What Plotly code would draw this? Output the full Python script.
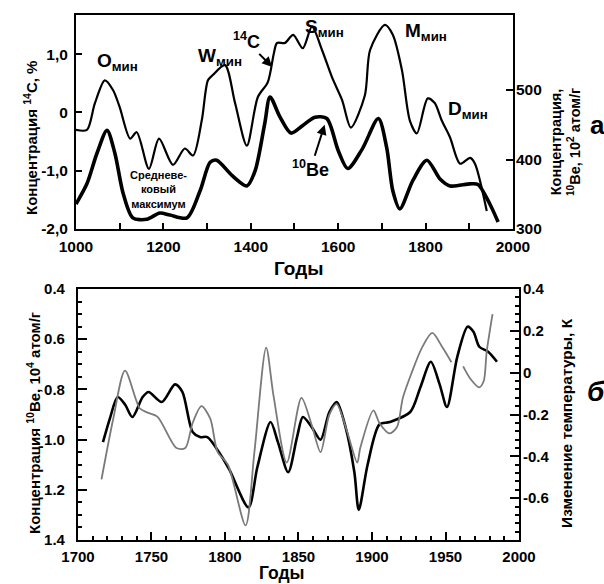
import plotly.graph_objects as go

# ---- Panel "а": 14C concentration and 10Be concentration, 1000-2000 ----
c14_years = [1000, 1025, 1043, 1066, 1085, 1100, 1124, 1139, 1167, 1190, 1222, 1249,
             1268, 1288, 1302, 1313, 1341, 1364, 1391, 1416, 1439, 1453, 1460, 1478,
             1497, 1519, 1540, 1563, 1586, 1609, 1629, 1661, 1673, 1707, 1725, 1746,
             1764, 1780, 1805, 1821, 1837, 1856, 1879, 1902, 1913, 1940]
c14_values = [-0.30, -0.30, 0.15, 0.55, 0.38, 0.09, -0.45, -0.34, -0.97, -0.45, -0.90, -0.62,
              -0.74, -0.13, 0.55, 0.64, 0.81, 0.16, -0.57, 0.26, 0.52, 1.02, 1.19, 1.19,
              1.33, 1.10, 1.47, 1.07, 0.60, 0.21, -0.26, 0.29, 1.07, 1.50, 1.33, 0.72,
              -0.14, -0.36, 0.24, 0.16, -0.14, -0.43, -0.88, -0.78, -0.88, -1.69]

be_years_a = [1000, 1025, 1048, 1071, 1089, 1108, 1130, 1162, 1192, 1215, 1254, 1284,
              1307, 1322, 1357, 1391, 1410, 1432, 1444, 1467, 1492, 1519, 1547, 1574,
              1600, 1622, 1655, 1692, 1711, 1725, 1741, 1771, 1803, 1833, 1856, 1902,
              1920, 1947, 1966]
be_values_a = [336, 365, 409, 442, 409, 351, 316, 314, 323, 320, 316, 355,
               396, 399, 377, 362, 384, 452, 490, 461, 438, 449, 461, 459,
               413, 387, 415, 459, 417, 355, 329, 370, 399, 372, 362, 365,
               364, 336, 310]

# ---- Panel "б": 10Be concentration and temperature change, 1700-2000 ----
be_years_b = [1717, 1722, 1727, 1732, 1737, 1744, 1748, 1757, 1766, 1771, 1778, 1783,
              1788, 1797, 1803, 1816, 1822, 1831, 1836, 1843, 1849, 1853, 1859, 1865,
              1871, 1876, 1882, 1888, 1891, 1897, 1905, 1912, 1926, 1933, 1940, 1946,
              1951, 1958, 1965, 1969, 1973, 1979, 1985]
be_values_b = [1.01, 0.91, 0.83, 0.86, 0.91, 0.83, 0.81, 0.85, 0.78, 0.81, 0.97, 0.99,
               0.99, 1.06, 1.12, 1.27, 1.11, 0.93, 1.01, 1.13, 0.99, 0.91, 0.95, 1.00,
               0.89, 0.85, 0.95, 1.13, 1.28, 1.10, 0.94, 0.93, 0.89, 0.79, 0.69, 0.78,
               0.87, 0.67, 0.55, 0.57, 0.63, 0.65, 0.69]

temp_years = [1716, 1724, 1732, 1742, 1747, 1754, 1767, 1773, 1778, 1784, 1790, 1795,
              1802, 1814, 1820, 1828, 1833, 1842, 1852, 1859, 1865, 1871, 1876, 1883,
              1890, 1892, 1901, 1905, 1912, 1917, 1921, 1927, 1934, 1941, 1948, 1954,
              1958, 1962, 1967, 1973, 1976, 1978, 1982]
temp_values = [-0.51, -0.22, 0.01, -0.17, -0.19, -0.21, -0.36, -0.36, -0.24, -0.16, -0.22, -0.38,
               -0.44, -0.73, -0.38, 0.12, -0.11, -0.43, -0.12, -0.25, -0.38, -0.20, -0.15, -0.28,
               -0.43, -0.36, -0.18, -0.24, -0.29, -0.26, -0.12, 0.00, 0.12, 0.19, 0.12, 0.05,
               None, 0.03, -0.03, -0.07, -0.04, 0.10, 0.28]

# tick values and labels
c14_ticks = [-2, -1, 0, 1]
c14_ticktext = ["-2,0", "-1,0", "0", "1,0"]
be_a_ticks = [300, 400, 500]
temp_ticks = [-0.6, -0.4, -0.2, 0, 0.2, 0.4]
temp_ticktext = ["-0.6", "-0.4", "-0.2", "0", "0.2", "0.4"]

FONT = "Liberation Sans, Arial, sans-serif"
BLACK = "black"

fig = go.Figure()

fig.add_trace(go.Scatter(x=c14_years, y=c14_values, mode="lines", xaxis="x", yaxis="y",
                         line=dict(color=BLACK, width=2.2, shape="spline", smoothing=0.8),
                         showlegend=False))
fig.add_trace(go.Scatter(x=be_years_a, y=be_values_a, mode="lines", xaxis="x", yaxis="y2",
                         line=dict(color=BLACK, width=3.6, shape="spline", smoothing=0.8),
                         showlegend=False))
fig.add_trace(go.Scatter(x=temp_years, y=temp_values, mode="lines", xaxis="x2", yaxis="y4",
                         line=dict(color="#7a7a7a", width=1.8, shape="spline", smoothing=0.8),
                         connectgaps=False, showlegend=False))
fig.add_trace(go.Scatter(x=be_years_b, y=be_values_b, mode="lines", xaxis="x2", yaxis="y3",
                         line=dict(color=BLACK, width=2.6, shape="spline", smoothing=0.8),
                         showlegend=False))


def bold(size):
    return dict(family=FONT, size=size, color=BLACK, weight="bold")


common = dict(showgrid=False, zeroline=False, automargin=False,
              ticks="inside", tickcolor=BLACK, tickwidth=1.5)
frame = dict(showline=True, linecolor=BLACK, linewidth=2, mirror=True)


def minor(tick0, dtick, length):
    return dict(tickmode="linear", tick0=tick0, dtick=dtick, ticks="inside",
                ticklen=length, tickcolor=BLACK, tickwidth=1.5)


fig.update_layout(
    width=604, height=584, autosize=False,
    margin=dict(l=0, r=0, t=0, b=0, pad=0),
    paper_bgcolor="white", plot_bgcolor="white",
    font=dict(family=FONT, color=BLACK),
    xaxis=dict(domain=[0.1258, 0.8493], anchor="y", range=[1000, 2000],
               tickmode="linear", tick0=1000, dtick=200, ticklen=6,
               minor=minor(1000, 100, 6), ticklabelstandoff=2,
               tickfont=bold(15.5), **common, **frame),
    yaxis=dict(domain=[0.6079, 0.9743], anchor="x", range=[-2, 1.67],
               tickmode="array", tickvals=c14_ticks, ticktext=c14_ticktext,
               ticklen=6, ticklabelstandoff=3, tickfont=bold(15.5), **common, **frame),
    yaxis2=dict(overlaying="y", side="right", anchor="x", range=[300, 608],
                tickmode="array", tickvals=be_a_ticks, ticklen=7, ticklabelstandoff=2,
                showline=False, tickfont=bold(15.5), **common),
    xaxis2=dict(domain=[0.1291, 0.8593], anchor="y3", range=[1700, 2000],
                tickmode="linear", tick0=1700, dtick=50, ticklen=8,
                minor=minor(1700, 10, 4), ticklabelstandoff=2,
                tickfont=bold(15), **common, **frame),
    yaxis3=dict(domain=[0.0753, 0.5051], anchor="x2", range=[1.4, 0.4],
                tickmode="linear", tick0=0.4, dtick=0.2, tickformat=".1f", ticklen=9,
                minor=minor(0.4, 0.05, 4), ticklabelstandoff=8,
                tickfont=bold(15), **common, **frame),
    yaxis4=dict(overlaying="y3", side="right", anchor="x2", range=[-0.8, 0.4],
                tickmode="array", tickvals=temp_ticks, ticktext=temp_ticktext, ticklen=9,
                minor=minor(0, 0.04, 4), ticklabelstandoff=3,
                showline=False, tickfont=bold(15), **common),
)

ann = []


def label(text, x, y, xref="paper", yref="paper", size=13, **kw):
    ann.append(dict(text=text, x=x, y=y, xref=xref, yref=yref, showarrow=False,
                    xanchor="center", yanchor="middle", font=bold(size), **kw))


# axis titles
label("Концентрация <sup>14</sup>C, %", 0.0513, 0.7637, size=15, textangle=-90)
label("Концентрация,<br><sup>10</sup>Be, 10<sup>2</sup> атом/г", 0.9354, 0.7568,
      size=14.5, textangle=-90)
label("Годы", 0.495, 0.541, size=19)
label("Концентрация <sup>10</sup>Be, 10<sup>4</sup> атом/г", 0.0563, 0.2757,
      size=15, textangle=-90)
label("Изменение температуры, К", 0.9387, 0.2757, size=15.5, textangle=-90)
label("Годы", 0.467, 0.018, size=17.5)

# panel letters
label("а", 0.990, 0.786, size=26)
label("<i>б</i>", 0.987, 0.329, size=28)

# solar minima labels
label("O<sub>мин</sub>", 1096, 0.86, "x", "y", size=19)
label("W<sub>мин</sub>", 1330, 0.95, "x", "y", size=19)
label("S<sub>мин</sub>", 1568, 1.45, "x", "y", size=19)
label("M<sub>мин</sub>", 1800, 1.38, "x", "y", size=19)
label("D<sub>мин</sub>", 1897, 0.04, "x", "y", size=19)
label("Средневе-<br>ковый<br>максимум", 1188, -1.32, "x", "y", size=11)

# curve labels with arrows
ann.append(dict(text="<sup>14</sup>C", x=1449, y=0.78, xref="x", yref="y", showarrow=True,
                ax=-26, ay=-26, arrowhead=2, arrowsize=1, arrowwidth=2, arrowcolor=BLACK,
                font=bold(18)))
ann.append(dict(text="<sup>10</sup>Be", x=1569, y=450, xref="x", yref="y2", showarrow=True,
                ax=-14, ay=44, arrowhead=2, arrowsize=1, arrowwidth=2, arrowcolor=BLACK,
                font=bold(18)))

fig.update_layout(annotations=ann)

fig.write_html("out.html")
